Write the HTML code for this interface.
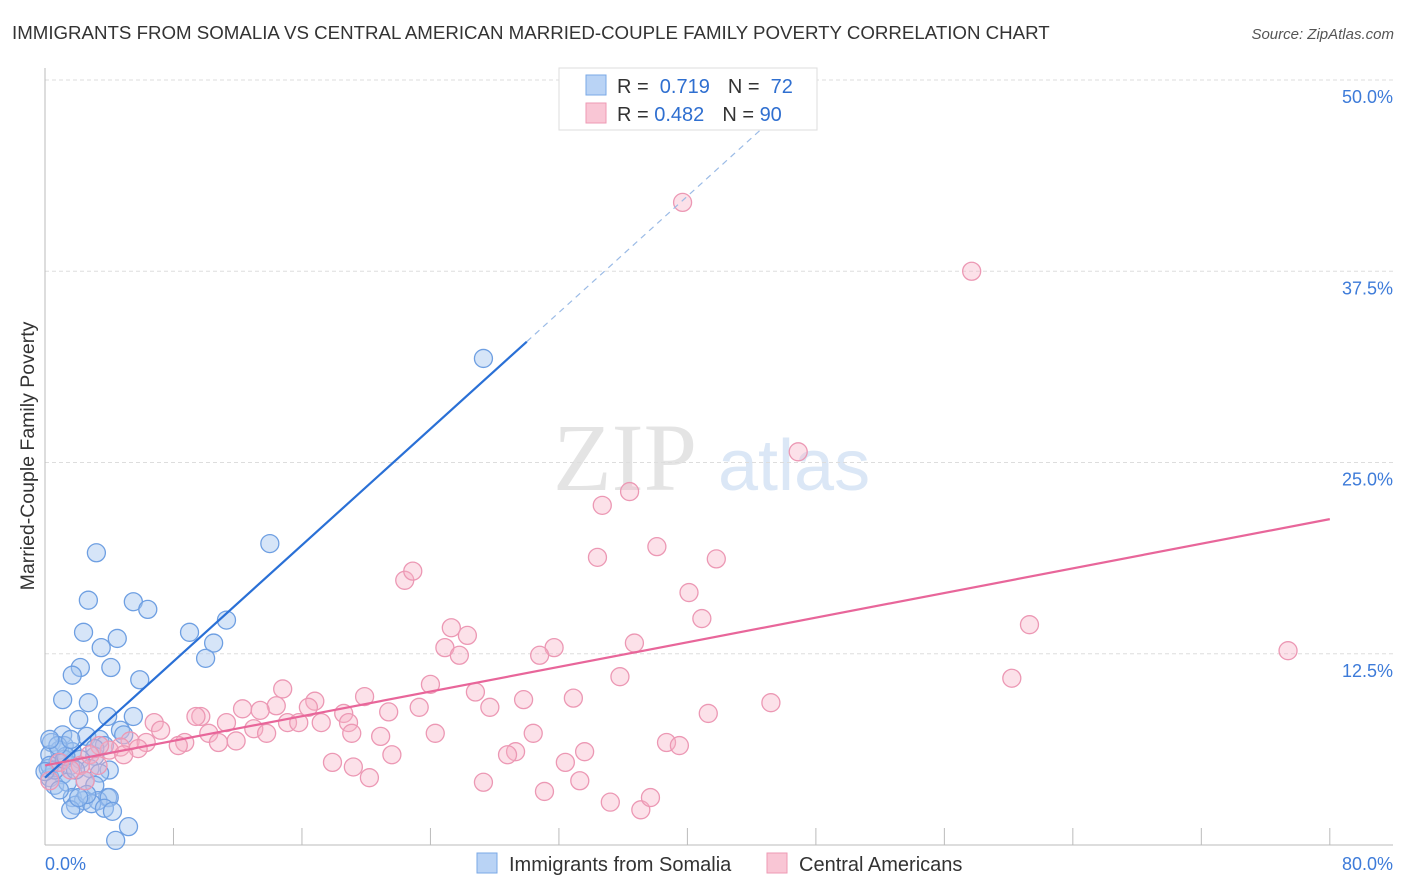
<!DOCTYPE html>
<html><head><meta charset="utf-8">
<style>
body{margin:0;background:#fff;font-family:"Liberation Sans",sans-serif;}
#wrap{position:relative;width:1406px;height:892px;overflow:hidden;}
</style></head>
<body>
<div id="wrap">
<svg id="svg" width="1406" height="892" xmlns="http://www.w3.org/2000/svg">
<text x="12" y="39" font-size="18.7" fill="#333">IMMIGRANTS FROM SOMALIA VS CENTRAL AMERICAN MARRIED-COUPLE FAMILY POVERTY CORRELATION CHART</text>
<text x="1394" y="39" font-size="15" fill="#555" font-style="italic" text-anchor="end">Source: ZipAtlas.com</text>
<text x="553" y="490" font-size="96" fill="#e4e4e4" font-family="Liberation Serif,serif">ZIP</text>
<text x="718" y="490" font-size="72" fill="#dbe7f6">atlas</text>
<g id="grid"></g>
<g id="axes"></g>
<g id="pts"></g>
<g id="lines"></g>
<text transform="translate(34,456) rotate(-90)" font-size="19.5" fill="#333" text-anchor="middle">Married-Couple Family Poverty</text>
<text x="45" y="870" font-size="18" fill="#3d7bd9">0.0%</text>
<text x="1393" y="870" font-size="18" fill="#3d7bd9" text-anchor="end">80.0%</text>
<g>
<rect x="559" y="68" width="258" height="62" fill="#fff" stroke="#ddd"/>
<rect x="586" y="75" width="20" height="20" fill="#b9d3f5" stroke="#7aa8e6"/>
<rect x="586" y="103" width="20" height="20" fill="#f9c6d5" stroke="#ee9ab4"/>
<text x="617" y="93" font-size="20" fill="#333">R = <tspan fill="#2f6fd0">&#160;0.719</tspan><tspan dx="18">N = </tspan><tspan fill="#2f6fd0">&#160;72</tspan></text>
<text x="617" y="121" font-size="20" fill="#333">R = <tspan fill="#2f6fd0">0.482</tspan><tspan dx="18">N = </tspan><tspan fill="#2f6fd0">90</tspan></text>
</g>
<g>
<rect x="477" y="853" width="20" height="20" fill="#b9d3f5" stroke="#7aa8e6"/>
<text x="509" y="871" font-size="20" fill="#333">Immigrants from Somalia</text>
<rect x="767" y="853" width="20" height="20" fill="#f9c6d5" stroke="#ee9ab4"/>
<text x="799" y="871" font-size="20" fill="#333">Central Americans</text>
</g>
</svg>
</div>
<script>
const yTicks=[12.5,25,37.5,50];
const yTickLabels=["12.5%","25.0%","37.5%","50.0%"];
const xTicks=[0,8,16,24,32,40,48,56,64,72,80];
const blueX=[27.3,14.0,3.2,2.7,5.5,6.4,11.3,2.4,9.0,4.5,10.5,3.5,10.0,2.2,4.1,1.7,5.9,1.1,2.7,3.9,2.1,5.5,4.7,1.1,2.6,4.9,3.4,0.4,1.2,0.9,1.7,3.7,0.3,3.1,2.2,0.8,0.2,1.6,2.8,4.0,3.4,1.1,0.3,2.5,0.6,1.4,3.1,1.7,3.9,2.4,3.3,4.0,1.9,2.9,3.7,4.2,1.6,5.2,4.4,0.3,0.6,1.2,1.9,0.0,0.9,2.6,2.1,1.3,0.8,1.6,0.3,3.1];
const blueY=[31.8,19.7,19.1,16.0,15.9,15.4,14.7,13.9,13.9,13.5,13.2,12.9,12.2,11.6,11.6,11.1,10.8,9.5,9.3,8.4,8.2,8.4,7.5,7.2,7.1,7.2,6.9,6.7,6.5,6.2,6.1,6.5,5.9,5.8,5.6,5.4,5.0,5.2,5.0,4.9,4.7,4.6,4.4,4.2,3.9,4.1,3.9,3.1,3.1,2.9,2.9,3.1,2.6,2.7,2.4,2.2,2.3,1.2,0.3,5.2,4.9,5.6,4.9,4.8,3.6,3.3,3.1,5.8,6.5,6.9,6.9,6.3];
const pinkX=[39.7,57.7,46.9,36.4,34.7,38.1,34.4,41.8,22.4,22.9,40.1,40.9,61.3,25.3,26.3,36.7,24.9,25.8,31.7,30.8,77.4,35.8,60.2,14.8,24.0,26.8,19.9,16.8,32.9,29.8,27.7,45.2,14.4,12.3,13.4,9.7,9.4,16.4,21.4,23.3,18.6,41.3,15.1,15.8,17.2,18.9,6.8,11.3,7.2,13.0,10.2,19.1,24.3,20.9,30.4,13.8,8.7,8.3,10.8,11.9,38.7,39.5,5.3,6.3,4.7,5.8,4.0,3.4,4.9,33.6,29.3,28.8,21.6,17.9,19.2,32.4,20.2,33.3,27.3,31.1,35.2,37.1,37.7,2.2,2.8,0.9,0.3,1.6,3.3,2.5];
const pinkY=[42.0,37.5,25.7,23.1,22.2,19.5,18.8,18.7,17.3,17.9,16.5,14.8,14.4,14.2,13.7,13.2,12.9,12.4,12.9,12.4,12.7,11.0,10.9,10.2,10.5,10.0,9.7,9.4,9.6,9.5,9.0,9.3,9.1,8.9,8.8,8.4,8.4,9.0,8.7,9.0,8.6,8.6,8.0,8.0,8.0,8.0,8.0,8.0,7.5,7.6,7.3,7.3,7.3,7.1,7.3,7.3,6.7,6.5,6.7,6.8,6.7,6.5,6.8,6.7,6.4,6.3,6.2,6.5,5.9,6.1,6.1,5.9,5.9,5.4,5.1,5.4,4.4,4.2,4.1,3.5,2.8,2.3,3.1,5.2,5.9,5.4,4.2,4.9,5.2,4.2];
const blueTrendX=[0,30.0,46.3];
const blueTrendY=[4.4,32.9,48.4];
const pinkTrendX=[0,80];
const pinkTrendY=[5.2,21.3];

const X=v=>45+v*16.06;
const Y=v=>845-v*15.3;
const NS="http://www.w3.org/2000/svg";
function mk(tag,attrs,parent){const e=document.createElementNS(NS,tag);for(const k in attrs)e.setAttribute(k,attrs[k]);document.getElementById(parent).appendChild(e);return e;}

yTicks.forEach((t,i)=>{
  const l=mk('line',{x1:45,x2:1393,y1:Y(t),y2:Y(t),stroke:'#ddd','stroke-dasharray':'4,3'},'grid');
  
  
  const tx=mk('text',{x:1393,y:Y(t)+23,'font-size':18,fill:'#3d7bd9','text-anchor':'end'},'grid');
  tx.textContent=yTickLabels[i];
  
  
});
let a=mk('line',{x1:45,x2:45,y1:68,y2:845,stroke:'#bbb'},'axes');


a=mk('line',{x1:45,x2:1393,y1:845,y2:845,stroke:'#bbb'},'axes');


xTicks.forEach(t=>{
  const l=mk('line',{x1:X(t),x2:X(t),y1:828,y2:845,stroke:'#bbb'},'axes');
  
  
});
blueX.forEach((v,i)=>{
  const c=mk('circle',{cx:X(v),cy:Y(blueY[i]),r:9,fill:'rgba(165,197,240,0.45)',stroke:'#6e9fe2','stroke-width':1.3},'pts');
  
  
});
pinkX.forEach((v,i)=>{
  const c=mk('circle',{cx:X(v),cy:Y(pinkY[i]),r:9,fill:'rgba(246,176,198,0.38)',stroke:'#ec98b4','stroke-width':1.3},'pts');
  
  
});
let t=mk('line',{x1:X(blueTrendX[0]),y1:Y(blueTrendY[0]),x2:X(blueTrendX[1]),y2:Y(blueTrendY[1]),stroke:'#2a70d6','stroke-width':2.2},'lines');


t=mk('line',{x1:X(blueTrendX[1]),y1:Y(blueTrendY[1]),x2:X(blueTrendX[2]),y2:Y(blueTrendY[2]),stroke:'#9bbbe6','stroke-width':1.2,'stroke-dasharray':'6,5'},'lines');


t=mk('line',{x1:X(pinkTrendX[0]),y1:Y(pinkTrendY[0]),x2:X(pinkTrendX[1]),y2:Y(pinkTrendY[1]),stroke:'#e8669a','stroke-width':2.2},'lines');


</script>
</body></html>
